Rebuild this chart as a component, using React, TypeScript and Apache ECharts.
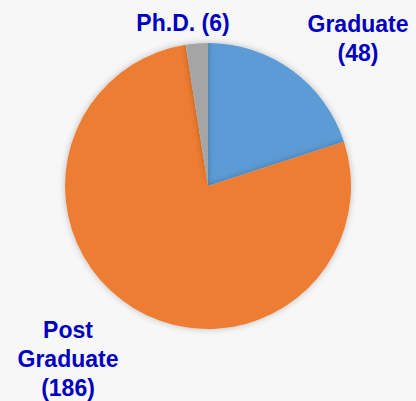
import React, { useEffect, useRef } from "react";
import * as echarts from "echarts";

const categories = ["Graduate", "Post\nGraduate", "Ph.D."];
const values = [48, 186, 6];
const colors = ["#5B9BD5", "#ED7D31", "#A5A5A5"];
const labelSpots = [
  { x: 358, y: 38 },
  { x: 68, y: 359 },
  { x: 183, y: 23 },
];

export default function App() {
  const ref = useRef<HTMLDivElement>(null);
  useEffect(() => {
    document.body.style.margin = "0";
    document.body.style.background = "#f7f7f7";
    const chart = echarts.init(ref.current!, null, { renderer: "svg" });
    chart.setOption({
      animation: false,
      backgroundColor: "#f7f7f7",
      series: [
        {
          type: "pie",
          center: [208, 186],
          radius: [0, 143],
          startAngle: 90,
          clockwise: true,
          avoidLabelOverlap: false,
          data: categories.map((c, i) => ({
            name: c,
            value: values[i],
            itemStyle: { color: colors[i] },
          })),
          itemStyle: {
            shadowBlur: 6,
            shadowColor: "rgba(0,0,0,0.25)",
          },
          label: {
            show: true,
            position: "outside",
            formatter: (p: any) =>
              p.dataIndex === 2 ? `${p.name} (${p.value})` : `${p.name}\n(${p.value})`,
            fontFamily: "Liberation Sans, Arial, sans-serif",
            fontWeight: "bold",
            fontSize: 23,
            lineHeight: 29,
            color: "#0000C0",
            align: "center",
            overflow: "none",
          },
          labelLine: { show: false },
          labelLayout: (params: any) => ({
            x: labelSpots[params.dataIndex].x,
            y: labelSpots[params.dataIndex].y,
            align: "center",
            verticalAlign: "middle",
          }),
          emphasis: { disabled: true },
        },
      ],
    });
    return () => chart.dispose();
  }, []);
  return <div ref={ref} style={{ width: 416, height: 401, background: "#f7f7f7" }} />;
}
